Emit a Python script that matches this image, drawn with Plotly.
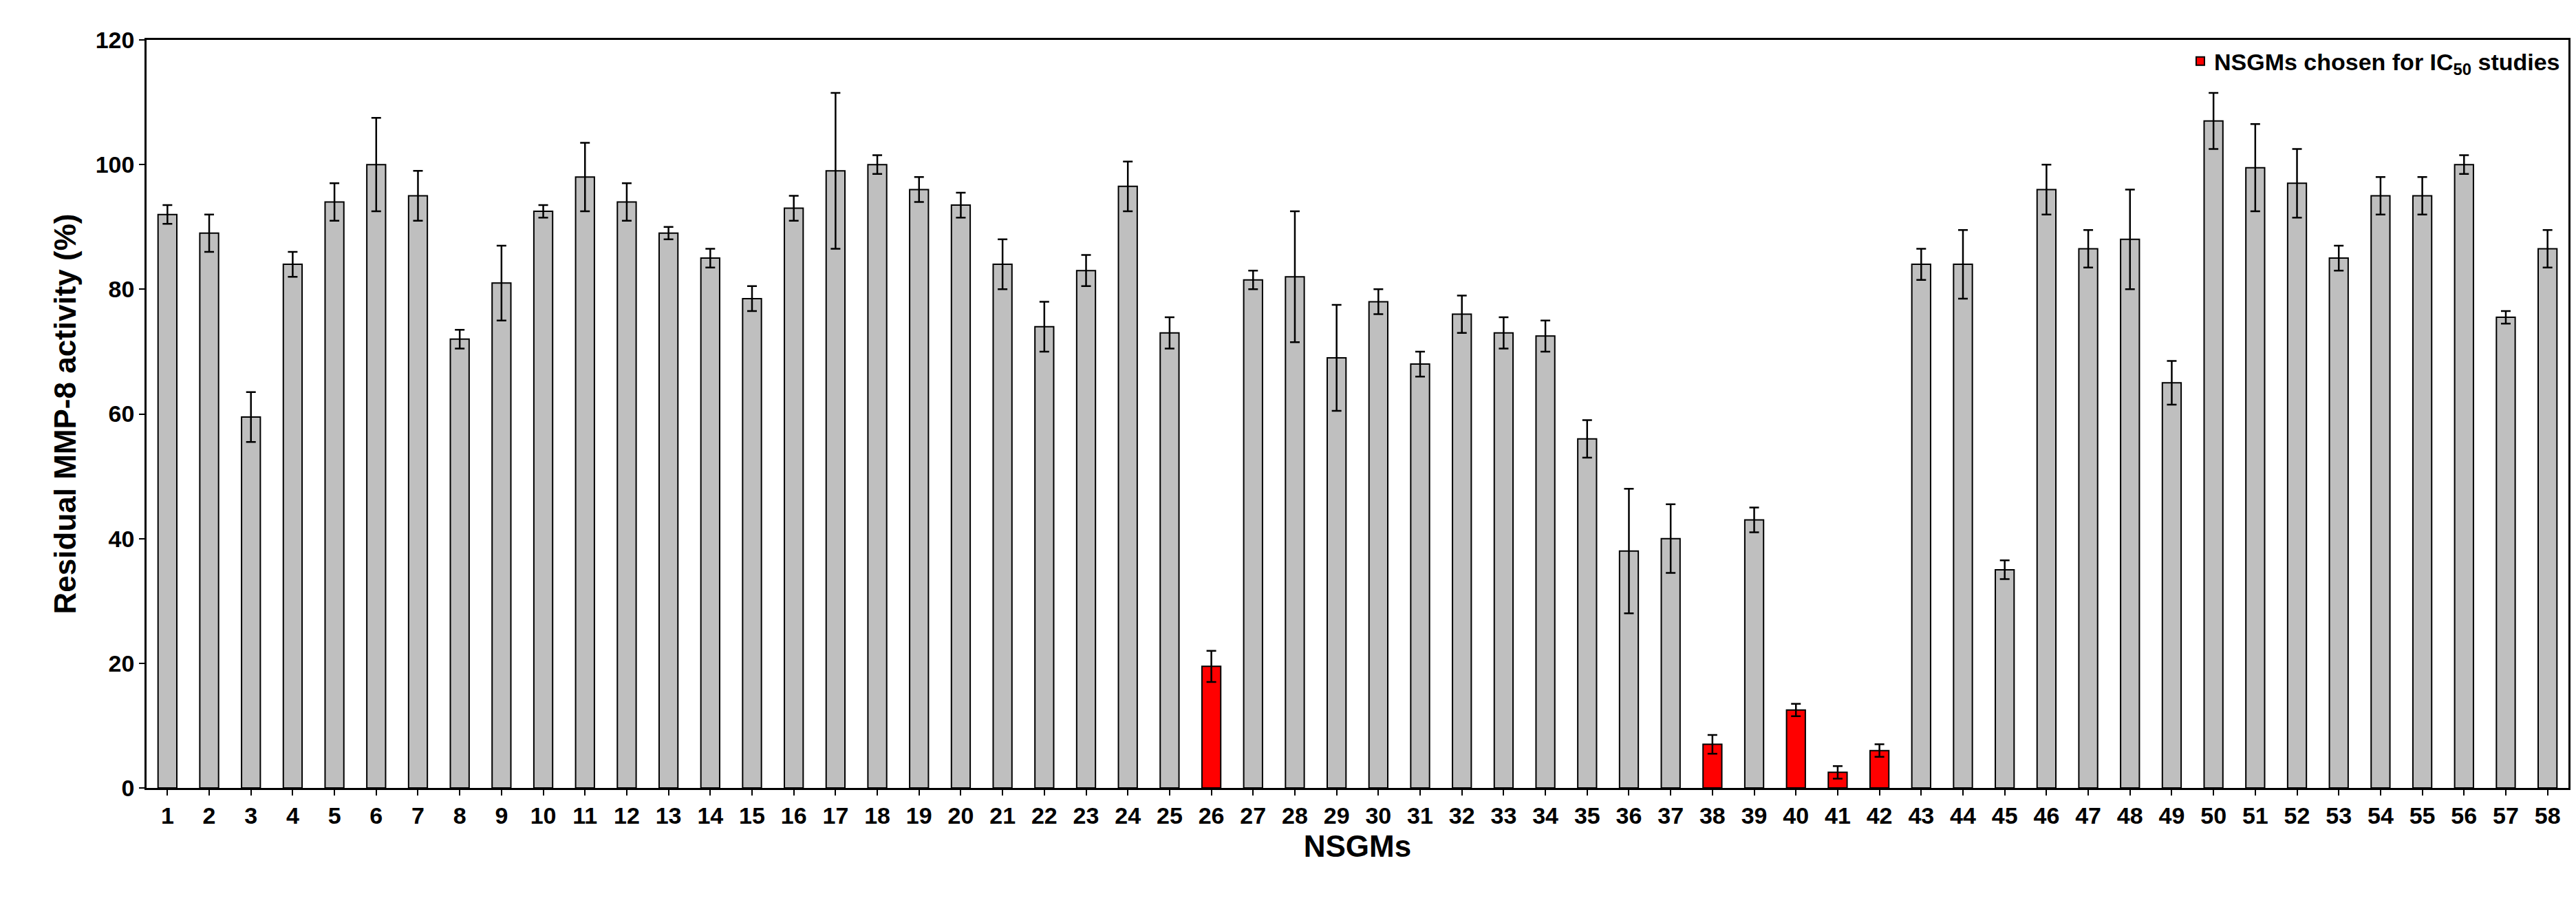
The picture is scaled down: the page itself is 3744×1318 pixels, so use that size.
import plotly.graph_objects as go

compounds = [str(i) for i in range(1, 59)]
activity = [92, 89, 59.5, 84, 94, 100, 95, 72, 81, 92.5,
            98, 94, 89, 85, 78.5, 93, 99, 100, 96, 93.5,
            84, 74, 83, 96.5, 73, 19.5, 81.5, 82, 69, 78,
            68, 76, 73, 72.5, 56, 38, 40, 7, 43, 12.5,
            2.5, 6, 84, 84, 35, 96, 86.5, 88, 65, 107,
            99.5, 97, 85, 95, 95, 100, 75.5, 86.5]
errors = [1.5, 3, 4, 2, 3, 7.5, 4, 1.5, 6, 1,
          5.5, 3, 1, 1.5, 2, 2, 12.5, 1.5, 2, 2,
          4, 4, 2.5, 4, 2.5, 2.5, 1.5, 10.5, 8.5, 2,
          2, 3, 2.5, 2.5, 3, 10, 5.5, 1.5, 2, 1,
          1, 1, 2.5, 5.5, 1.5, 4, 3, 8, 3.5, 4.5,
          7, 5.5, 2, 3, 3, 1.5, 1, 3]
chosen = ["26", "38", "40", "41", "42"]

gray_y = [None if c in chosen else v for c, v in zip(compounds, activity)]
gray_e = [None if c in chosen else e for c, e in zip(compounds, errors)]
red_y = [v if c in chosen else None for c, v in zip(compounds, activity)]
red_e = [e if c in chosen else None for c, e in zip(compounds, errors)]

font = "Liberation Sans"
err = dict(type="data", visible=True, color="black", thickness=2.5, width=7)

fig = go.Figure()
fig.add_trace(go.Bar(x=compounds, y=gray_y, error_y=dict(array=gray_e, **err),
                     marker=dict(color="#BFBFBF", line=dict(color="black", width=2)),
                     width=0.45, showlegend=False))
fig.add_trace(go.Bar(x=compounds, y=red_y, error_y=dict(array=red_e, **err),
                     marker=dict(color="#FF0000", line=dict(color="black", width=2)),
                     width=0.45, name="<b>NSGMs chosen for IC<sub>50</sub> studies</b>"))

fig.update_layout(
    width=3744, height=1318, barmode="overlay",
    plot_bgcolor="white", paper_bgcolor="white",
    margin=dict(l=205, r=19, t=50, b=181),
    font=dict(family=font, size=34, color="black"),
    legend=dict(x=0.998, y=0.998, xanchor="right", yanchor="top",
                font=dict(size=34), bgcolor="rgba(0,0,0,0)", itemwidth=30),
    xaxis=dict(title=dict(text="<b>NSGMs</b>", font=dict(size=44), standoff=12),
               showline=True, linecolor="black", linewidth=2.5, mirror=True,
               ticks="outside", ticklen=8, tickwidth=2, tickcolor="black",
               tickfont=dict(size=34, family=font, weight="bold")),
    yaxis=dict(title=dict(text="<b>Residual MMP-8 activity (%)</b>", font=dict(size=44)),
               range=[0, 120], dtick=20, showgrid=False, zeroline=False,
               showline=True, linecolor="black", linewidth=2.5, mirror=True,
               ticks="outside", ticklen=8, tickwidth=2, tickcolor="black",
               tickfont=dict(size=34, family=font, weight="bold")),
)

fig.write_html("out.html")
